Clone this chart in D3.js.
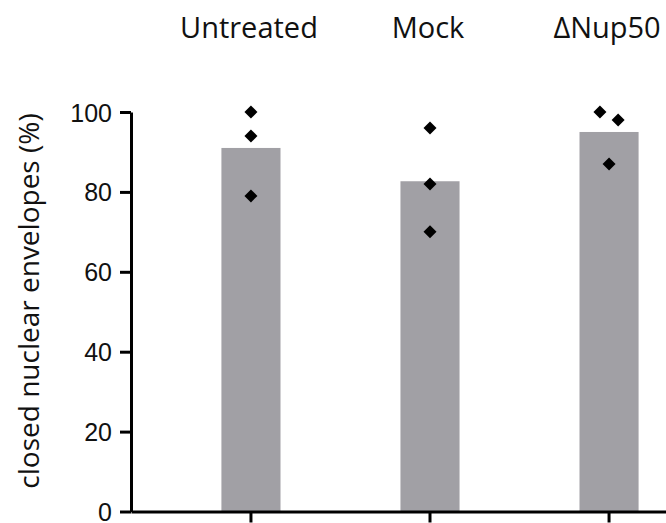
<!DOCTYPE html>
<html>
<head>
<meta charset="utf-8">
<script src="https://cdn.jsdelivr.net/npm/d3@7"></script>
<style>
    body { margin: 0; background: #fff; }
    svg { display: block; font-family: "Open Sans", "Noto Sans", sans-serif; }
</style>
</head>
<body>
<div id="chart"></div>
<script>
const categories = ['Untreated', 'Mock', '\u0394Nup50'];
const untreated = [100, 94, 79];
const mock = [96, 82, 70];
const nup50 = [100, 98, 87];
const yTicks = [0, 20, 40, 60, 80, 100];
const yLabel = 'closed nuclear envelopes (%)';

const width = 666, height = 523;
const margin = { top: 112, right: 0, bottom: 11.5, left: 131 };
const barColor = '#a1a0a5';
const dotSize = 13; // diagonal of the diamond

const replicates = [untreated, mock, nup50];
const groups = categories.map((name, i) => ({
    name: name,
    values: replicates[i],
    mean: d3.mean(replicates[i])
}));

const svg = d3.select('#chart').append('svg')
    .attr('width', width)
    .attr('height', height);

// the original figure is cropped on the right, so the band range runs past the edge
const x = d3.scaleBand()
    .domain(categories)
    .range([margin.left, 729])
    .paddingInner(0.67)
    .paddingOuter(0.505);

const y = d3.scaleLinear()
    .domain([0, 100])
    .range([height - margin.bottom, margin.top]);

// bars
svg.append('g').selectAll('rect')
    .data(groups)
    .join('rect')
    .attr('x', d => x(d.name))
    .attr('y', d => y(d.mean))
    .attr('width', x.bandwidth())
    .attr('height', d => y(0) - y(d.mean))
    .attr('fill', barColor);

// replicate points, nudged sideways when they would overlap
function spread(values) {
    const sorted = values.map((v, i) => ({ v: v, i: i })).sort((a, b) => b.v - a.v);
    const offsets = values.map(() => 0);
    for (let k = 1; k < sorted.length; k++) {
        const gap = y(sorted[k].v) - y(sorted[k - 1].v);
        if (gap < dotSize) {
            offsets[sorted[k - 1].i] = -dotSize * 0.7;
            offsets[sorted[k].i] = dotSize * 0.7;
        }
    }
    return offsets;
}

const side = dotSize / Math.SQRT2;
const points = groups.flatMap(g => {
    const off = spread(g.values);
    return g.values.map((v, i) => ({ name: g.name, v: v, dx: off[i] }));
});

svg.append('g').selectAll('path')
    .data(points)
    .join('path')
    .attr('d', d3.symbol(d3.symbolSquare, side * side)())
    .attr('transform', d => `translate(${x(d.name) + x.bandwidth() / 2 + d.dx},${y(d.v)}) rotate(45)`)
    .attr('fill', '#000');

// y axis
const yAxis = svg.append('g')
    .attr('transform', `translate(${margin.left},0)`)
    .call(d3.axisLeft(y).tickValues(yTicks).tickSize(11).tickSizeOuter(0).tickPadding(8));
yAxis.select('.domain').attr('stroke', '#000').attr('stroke-width', 3);
yAxis.selectAll('.tick line').attr('stroke', '#000').attr('stroke-width', 3);
yAxis.selectAll('.tick text')
    .attr('font-size', 25)
    .attr('fill', '#111')
    .attr('dy', '0.36em');

// x axis
const xAxis = svg.append('g')
    .attr('transform', `translate(0,${y(0)})`)
    .call(d3.axisBottom(x).tickSize(11).tickSizeOuter(0).tickFormat(''));
xAxis.select('.domain').attr('stroke', '#000').attr('stroke-width', 3);
xAxis.selectAll('.tick line').attr('stroke', '#000').attr('stroke-width', 3);

// group names above the plot
svg.append('g').selectAll('text')
    .data(categories)
    .join('text')
    .attr('x', d => x(d) + x.bandwidth() / 2 - 2)
    .attr('y', 38)
    .attr('text-anchor', 'middle')
    .attr('font-size', 29)
    .attr('fill', '#111')
    .text(d => d);

// y axis title
svg.append('text')
    .attr('transform', `translate(39,301) rotate(-90)`)
    .attr('text-anchor', 'middle')
    .attr('font-size', 28)
    .attr('fill', '#111')
    .text(yLabel);
</script>
</body>
</html>
